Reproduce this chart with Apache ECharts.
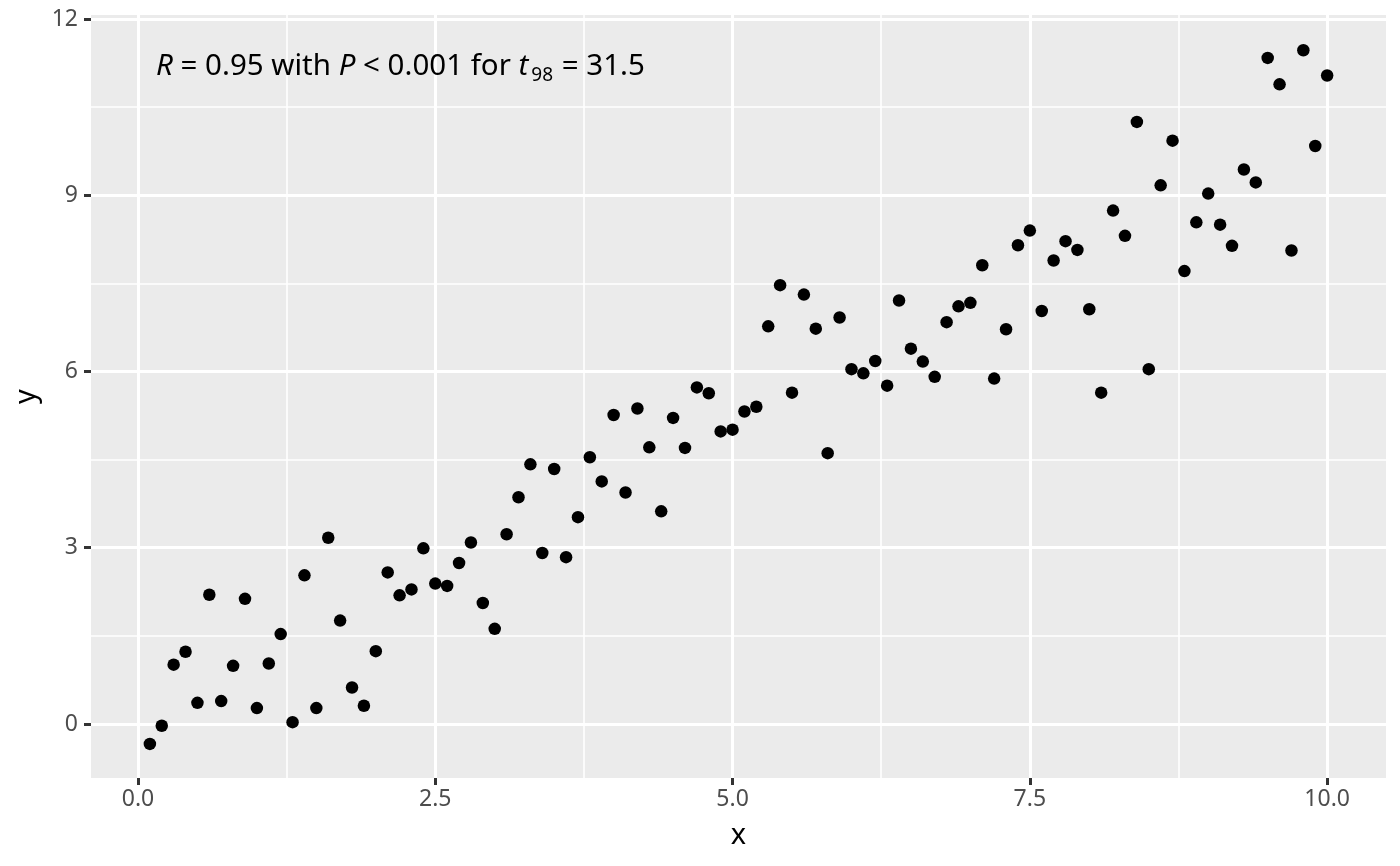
<!DOCTYPE html>
<html><head><meta charset="utf-8">
<script src="https://cdn.jsdelivr.net/npm/echarts@6/dist/echarts.min.js"></script>
<style>html,body{margin:0;padding:0;background:#fff}#c{width:1400px;height:866px}</style>
</head><body><div id="c"></div>
<script>
const xValues = [0.1,0.2,0.3,0.4,0.5,0.6,0.7,0.8,0.9,1.0,1.1,1.2,1.3,1.4,1.5,1.6,1.7,1.8,1.9,2.0,
 2.1,2.2,2.3,2.4,2.5,2.6,2.7,2.8,2.9,3.0,3.1,3.2,3.3,3.4,3.5,3.6,3.7,3.8,3.9,4.0,
 4.1,4.2,4.3,4.4,4.5,4.6,4.7,4.8,4.9,5.0,5.1,5.2,5.3,5.4,5.5,5.6,5.7,5.8,5.9,6.0,
 6.1,6.2,6.3,6.4,6.5,6.6,6.7,6.8,6.9,7.0,7.1,7.2,7.3,7.4,7.5,7.6,7.7,7.8,7.9,8.0,
 8.1,8.2,8.3,8.4,8.5,8.6,8.7,8.8,8.9,9.0,9.1,9.2,9.3,9.4,9.5,9.6,9.7,9.8,9.9,10.0];
const yValues = [-0.34,-0.03,1.01,1.23,0.36,2.20,0.39,0.99,2.13,0.27,1.03,1.53,0.03,2.53,0.27,3.17,1.76,0.62,0.31,1.24,
 2.58,2.19,2.29,2.99,2.39,2.35,2.74,3.09,2.06,1.62,3.23,3.86,4.42,2.91,4.34,2.84,3.52,4.54,4.13,5.26,
 3.94,5.37,4.71,3.62,5.21,4.70,5.73,5.63,4.98,5.01,5.32,5.40,6.77,7.47,5.64,7.31,6.73,4.61,6.92,6.04,
 5.97,6.18,5.76,7.21,6.39,6.17,5.91,6.84,7.11,7.17,7.81,5.88,6.72,8.15,8.40,7.03,7.89,8.22,8.07,7.06,
 5.64,8.74,8.31,10.25,6.04,9.17,9.93,7.71,8.54,9.03,8.50,8.14,9.44,9.22,11.34,10.89,8.06,11.47,9.84,11.04];
const xTicks = [0, 2.5, 5, 7.5, 10];
const xMinor = [1.25, 3.75, 6.25, 8.75];
const yTicks = [0, 3, 6, 9, 12];
const yMinor = [1.5, 4.5, 7.5, 10.5];
const xLabels = ['0.0', '2.5', '5.0', '7.5', '10.0'];
const yLabels = ['0', '3', '6', '9', '12'];
const annotation = ['R', ' = 0.95 with ', 'P', ' < 0.001 for ', 't', '98', ' = 31.5'];

const points = xValues.map((x, i) => [x, yValues[i]]);
const FONT = 'Noto Sans';
const xRange = [-0.395, 10.495];
const yRange = [-0.92, 12.07];

const chart = echarts.init(document.getElementById('c'), null, {renderer: 'canvas'});
function majorAxis(range, ticks, labels, isX) {
  return {
    type: 'value', min: range[0], max: range[1],
    name: isX ? 'x' : 'y', nameLocation: 'middle', nameGap: isX ? 43 : 45,
    nameTextStyle: {fontFamily: FONT, fontSize: 29, color: '#000'},
    axisLine: {show: false, onZero: false},
    axisTick: {show: true, inside: false, customValues: ticks, length: 7, lineStyle: {color: '#333333', width: 3}},
    axisLabel: {show: true, customValues: ticks, margin: isX ? 10 : 13, fontFamily: FONT, fontSize: 23, color: '#4D4D4D',
      formatter: v => { const k = ticks.indexOf(v); return k >= 0 ? labels[k] : ''; }},
    splitLine: {show: true, lineStyle: {color: '#FFFFFF', width: 3}}
  };
}
function minorAxis(range, ticks) {
  return {
    type: 'value', min: range[0], max: range[1],
    axisLine: {show: false, onZero: false},
    axisTick: {show: false, customValues: ticks},
    axisLabel: {show: false, customValues: ticks},
    splitLine: {show: true, lineStyle: {color: '#FFFFFF', width: 1.6}}
  };
}
const richStyles = {
  n: {fontFamily: FONT, fontSize: 29.5, lineHeight: 36, color: '#000'},
  i: {fontFamily: FONT, fontSize: 29.5, lineHeight: 36, color: '#000', fontStyle: 'italic'},
  s: {fontFamily: FONT, fontSize: 19, lineHeight: 19, color: '#000', verticalAlign: 'bottom', padding: [0, 1, 0, 3]}
};
const styleKeys = ['i', 'n', 'i', 'n', 'i', 's', 'n'];
const annText = annotation.map((t, k) => '{' + styleKeys[k] + '|' + t + '}').join('');

chart.setOption({
  animation: false,
  backgroundColor: '#FFFFFF',
  grid: {left: 91, right: 14, top: 15, bottom: 88, show: true, backgroundColor: '#EBEBEB', borderWidth: 0, containLabel: false},
  xAxis: [majorAxis(xRange, xTicks, xLabels, true), minorAxis(xRange, xMinor)],
  yAxis: [majorAxis(yRange, yTicks, yLabels, false), minorAxis(yRange, yMinor)],
  graphic: [{
    type: 'text', left: 156, top: 52, z: 10,
    style: {text: annText, rich: richStyles, fill: '#000'}
  }],
  series: [{
    type: 'scatter', xAxisIndex: 0, yAxisIndex: 0, data: points,
    symbol: 'circle', symbolSize: 12.5, itemStyle: {color: '#000', opacity: 1}, z: 5
  }]
});
</script></body></html>
